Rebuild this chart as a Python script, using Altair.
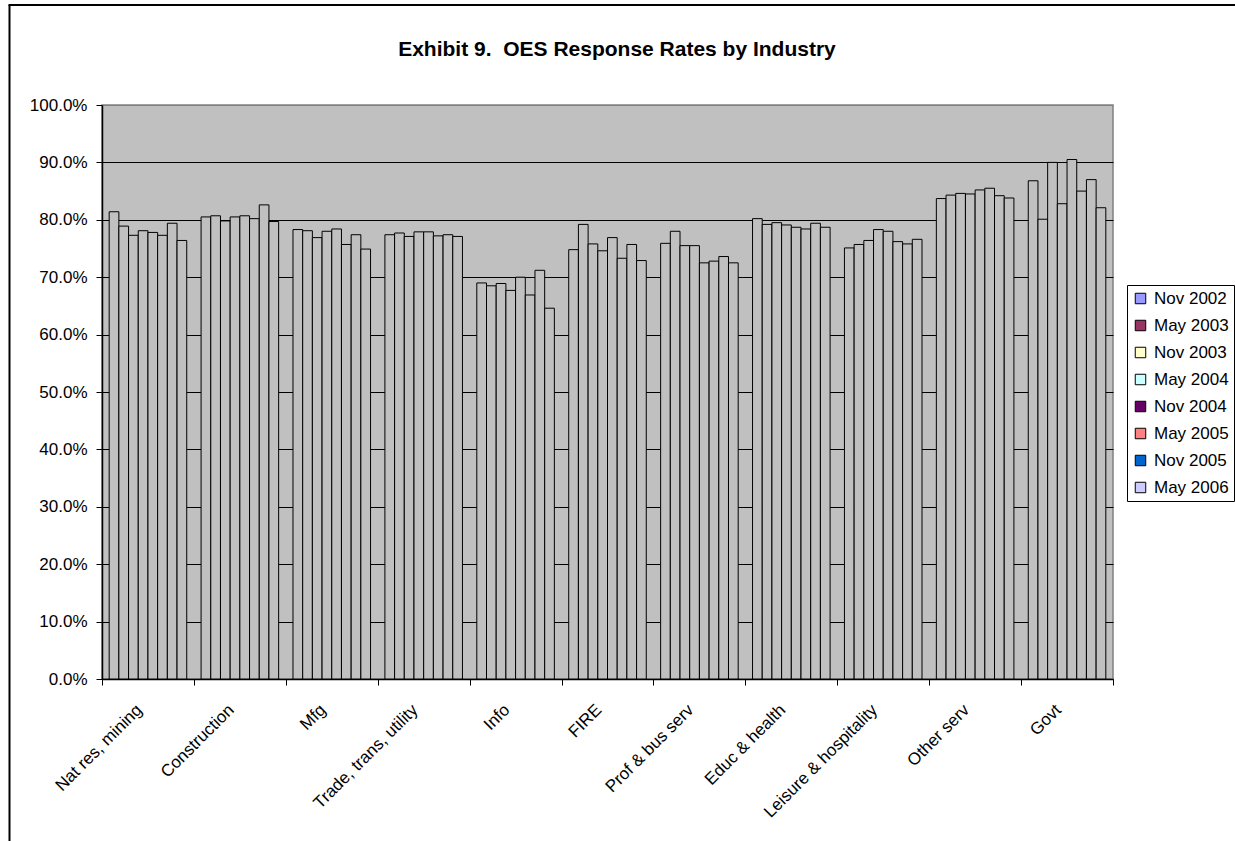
import altair as alt
import pandas as pd

categories = ["Nat res, mining", "Construction", "Mfg", "Trade, trans, utility", "Info",
              "FIRE", "Prof & bus serv", "Educ & health", "Leisure & hospitality",
              "Other serv", "Govt"]
periods = ["Nov 2002", "May 2003", "Nov 2003", "May 2004", "Nov 2004", "May 2005",
           "Nov 2005", "May 2006"]
period_colors = ["#9999FF", "#993366", "#FFFFCC", "#CCFFFF", "#660066", "#FF8080",
                 "#0066CC", "#CCCCFF"]
title_text = ["Exhibit 9.\u00a0 OES Response Rates by Industry"]

nat_res = [81.4, 78.9, 77.3, 78.1, 77.8, 77.3, 79.4, 76.4]
construction = [80.5, 80.7, 79.8, 80.5, 80.7, 80.2, 82.6, 79.7]
mfg = [78.3, 78.1, 76.9, 78.0, 78.4, 75.7, 77.4, 74.9]
trade = [77.4, 77.7, 77.1, 77.9, 77.9, 77.2, 77.4, 77.1]
info = [69.0, 68.5, 68.9, 67.7, 70.0, 66.9, 71.2, 64.6]
fire = [74.8, 79.2, 75.8, 74.6, 76.9, 73.3, 75.7, 72.9]
prof = [75.9, 78.0, 75.5, 75.5, 72.5, 72.8, 73.6, 72.5]
educ = [80.2, 79.2, 79.5, 79.1, 78.7, 78.4, 79.4, 78.7]
leisure = [75.1, 75.7, 76.4, 78.3, 78.0, 76.2, 75.8, 76.6]
other = [83.7, 84.3, 84.6, 84.5, 85.2, 85.5, 84.2, 83.8]
govt = [86.8, 80.1, 90.0, 82.8, 90.5, 85.0, 87.0, 82.1]

series = [nat_res, construction, mfg, trade, info, fire, prof, educ, leisure, other, govt]

rows = []
for cat, vals in zip(categories, series):
    for per, v in zip(periods, vals):
        rows.append({"Industry": cat, "Period": per, "Rate": v / 100.0})
df = pd.DataFrame(rows)

FONT = "Liberation Sans, Arial, sans-serif"

x_enc = alt.X("Industry:N", sort=categories,
              scale=alt.Scale(paddingInner=0, paddingOuter=0),
              axis=alt.Axis(title=None, labelAngle=-45, labelAlign="right",
                            labelBaseline="middle", labelFontSize=17, labelFont=FONT,
                            labelColor="black", labelPadding=22, labelOffset=-9,
                            tickBand="extent", tickSize=6, tickColor="black",
                            domainColor="black", domainWidth=1.5, labelOverlap=False))
xo_enc = alt.XOffset("Period:N", sort=periods,
                     scale=alt.Scale(paddingInner=0, paddingOuter=0.74))
y_enc = alt.Y("Rate:Q", scale=alt.Scale(domain=[0, 1], nice=False),
              axis=alt.Axis(title=None, format=".1%", values=[i / 10 for i in range(11)],
                            labelFontSize=17, labelFont=FONT, labelColor="black",
                            labelPadding=9, tickSize=6, tickColor="black",
                            domainColor="black", domainWidth=1.5,
                            grid=True,
                            gridColor={"condition": {"test": "datum.value === 1",
                                                     "value": "#808080"},
                                       "value": "black"},
                            gridWidth=1))

bars = alt.Chart(df).mark_bar(fill="#C0C0C0", stroke="black", strokeWidth=1).encode(
    x=x_enc, xOffset=xo_enc, y=y_enc
)

legend_layer = alt.Chart(df).mark_square(opacity=0).encode(
    x=alt.X("Industry:N", sort=categories),
    xOffset=alt.XOffset("Period:N", sort=periods),
    y=alt.Y("Rate:Q"),
    color=alt.Color("Period:N", sort=periods,
                    scale=alt.Scale(domain=periods, range=period_colors),
                    legend=alt.Legend(title=None, orient="none", legendX=1025, legendY=180,
                                      symbolType="square", symbolSize=110,
                                      symbolOpacity=1, symbolStrokeColor="black",
                                      symbolStrokeWidth=1, labelFontSize=17,
                                      labelFont=FONT, labelColor="black",
                                      labelOffset=5, rowPadding=9, padding=5,
                                      fillColor="white", strokeColor="black",
                                      cornerRadius=0))
)

title_df = pd.DataFrame({"t": title_text})
title_layer = alt.Chart(title_df).mark_text(
    font=FONT, fontSize=21, fontWeight="bold", color="black", align="center",
    baseline="middle"
).encode(text="t:N", x=alt.value(515), y=alt.value(-55))

frame = pd.DataFrame([{"k": 0}])
border_left = alt.Chart(frame).mark_rule(color="black", strokeWidth=2).encode(
    x=alt.value(-92.5), y=alt.value(-100), y2=alt.value(760)
)
border_top = alt.Chart(frame).mark_rule(color="black", strokeWidth=2).encode(
    x=alt.value(-93.5), x2=alt.value(1140), y=alt.value(-100)
)

chart = alt.layer(bars, legend_layer, title_layer, border_left, border_top).properties(
    width=1011, height=574,
    autosize=alt.AutoSizeParams(type="none"),
    padding={"left": 102, "top": 105, "right": 122, "bottom": 162},
).configure_view(fill="#C0C0C0", stroke="#808080", strokeWidth=1.5)

chart.save("out.html", embed_options={"renderer": "svg", "actions": False})
